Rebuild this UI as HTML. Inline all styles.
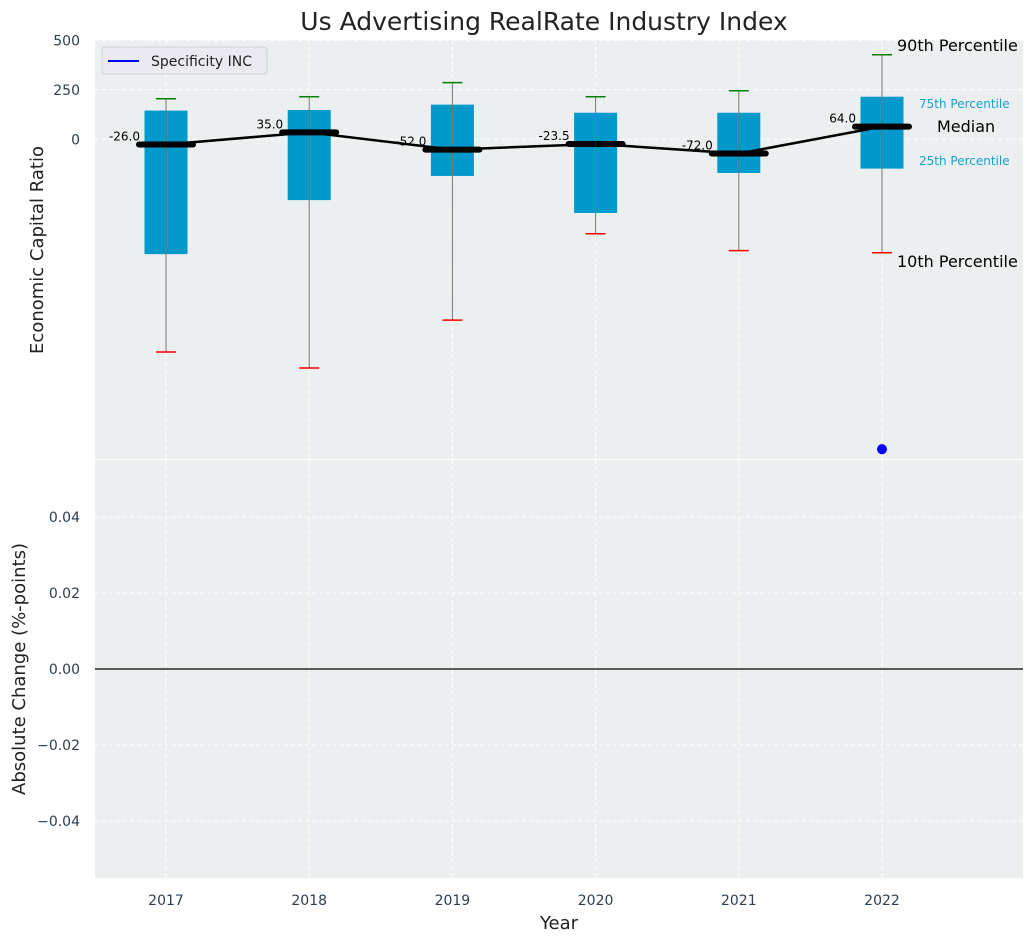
<!DOCTYPE html>
<html><head><meta charset="utf-8"><style>
body{margin:0;background:#fff;}
svg text{font-family:"DejaVu Sans","Liberation Sans",sans-serif;}
</style></head><body>
<svg id="chart" width="1034" height="942" xmlns="http://www.w3.org/2000/svg">
<rect x="95" y="40" width="928" height="419" fill="#ebeff0"/>
<rect x="95" y="460" width="928" height="418" fill="#ebeff0"/>
<g id="grid"></g>
<g id="marks"></g>
<text x="544" y="30" font-size="25" text-anchor="middle" fill="#222">Us Advertising RealRate Industry Index</text>
<text transform="translate(43,250) rotate(-90)" font-size="18" text-anchor="middle" fill="#222">Economic Capital Ratio</text>
<text transform="translate(25,669) rotate(-90)" font-size="18" text-anchor="middle" fill="#222">Absolute Change (%-points)</text>
<text x="559" y="929" font-size="18" text-anchor="middle" fill="#222">Year</text>
<g>
<rect x="102" y="47" width="165" height="27" rx="3" fill="#eaeaf0" stroke="#d0d0d8"/>
<line x1="108" y1="61" x2="139" y2="61" stroke="#0000ff" stroke-width="2"/>
<text x="151" y="66" font-size="14" fill="#222">Specificity INC</text>
</g>
<text x="897" y="51" font-size="16" fill="#000">90th Percentile</text>
<text x="919" y="108" font-size="12" fill="#1a9fd0">75th Percentile</text>
<text x="937" y="132" font-size="16" fill="#000">Median</text>
<text x="919" y="165" font-size="12" fill="#1a9fd0">25th Percentile</text>
<text x="897" y="267" font-size="16" fill="#000">10th Percentile</text>
</svg>
<script>
const years=["2017","2018","2019","2020","2021","2022"];
const p90=[205,215,286,215,245,427];
const p75=[145,148,175,134,134,215];
const medians=[-26,35,-52,-23.5,-72,64];
const p25=[-580,-307,-185,-372,-170,-148];
const p10=[-1074,-1155,-913,-477,-562,-573];
const companyYear=["2022"];
const companyValue=[-1565];
const topTicks=[500,250,0];
const bottomTicks=[0.04,0.02,0.00,-0.02,-0.04];
const NS="http://www.w3.org/2000/svg";
const X=i=>166+i*143.2;
const Y1=v=>139.3-v*0.198;
const Y2=v=>669-v*3800;
const grid=document.getElementById('grid'),marks=document.getElementById('marks');
function mk(tag,attrs,parent){const e=document.createElementNS(NS,tag);for(const k in attrs)e.setAttribute(k,attrs[k]);parent.appendChild(e);return e;}
years.forEach((y,i)=>{
 const g1=mk('line',{x1:X(i),x2:X(i),y1:40,y2:459,stroke:'#fff','stroke-dasharray':'4,3','stroke-width':1},grid);
 
 
 const g2=mk('line',{x1:X(i),x2:X(i),y1:460,y2:878,stroke:'#fff','stroke-dasharray':'4,3','stroke-width':1},grid);
 
 
 const t=mk('text',{x:X(i),y:905,'font-size':14,'text-anchor':'middle',fill:'#2c3e50'},grid);t.textContent=y;
 
 
});
topTicks.forEach(v=>{
 const l=mk('line',{x1:95,x2:1023,y1:Y1(v),y2:Y1(v),stroke:'#fff','stroke-dasharray':'4,3'},grid);
 
 
 const t=mk('text',{x:80,y:Y1(v)+5,'font-size':14,'text-anchor':'end',fill:'#2c3e50'},grid);t.textContent=v;
 
 
});
bottomTicks.forEach(v=>{
 const l=mk('line',{x1:95,x2:1023,y1:Y2(v),y2:Y2(v),stroke:'#fff','stroke-dasharray':'4,3'},grid);
 
 
 const t=mk('text',{x:80,y:Y2(v)+5,'font-size':14,'text-anchor':'end',fill:'#2c3e50'},grid);t.textContent=(v<0?'\u2212':'')+Math.abs(v).toFixed(2);
 
 
});
const zl=mk('line',{x1:95,x2:1023,y1:Y2(0),y2:Y2(0),stroke:'#000','stroke-width':1.2},marks);


years.forEach((y,i)=>{
 const x=X(i);
 const b=mk('rect',{x:x-21.5,y:Y1(p75[i]),width:43,height:Y1(p25[i])-Y1(p75[i]),fill:'#0099cc'},marks);
 
 
 const w=mk('line',{x1:x,x2:x,y1:Y1(p90[i]),y2:Y1(p10[i]),stroke:'#777','stroke-width':1},marks);
 
 
 const c1=mk('line',{x1:x-10,x2:x+10,y1:Y1(p90[i]),y2:Y1(p90[i]),stroke:'green','stroke-width':1.5},marks);
 
 
 const c2=mk('line',{x1:x-10,x2:x+10,y1:Y1(p10[i]),y2:Y1(p10[i]),stroke:'red','stroke-width':1.5},marks);
 
 
});
const pts=medians.map((m,i)=>X(i)+','+Y1(m)).join(' ');
const pl=mk('polyline',{points:pts,fill:'none',stroke:'#000','stroke-width':2.5},marks);


medians.forEach((m,i)=>{
 const x=X(i);
 const ml=mk('line',{x1:x-27,x2:x+27,y1:Y1(m),y2:Y1(m),stroke:'#000','stroke-width':6,'stroke-linecap':'round'},marks);
 
 
 const t=mk('text',{x:x-26,y:Y1(m)-4,'font-size':12,'text-anchor':'end',fill:'#000'},marks);t.textContent=m.toFixed(1);
 
 
});
companyYear.forEach((y,k)=>{
 const i=years.indexOf(y);
 const d=mk('circle',{cx:X(i),cy:Y1(companyValue[k]),r:5,fill:'#0000ff'},marks);
 
 
});
</script>
</body></html>
